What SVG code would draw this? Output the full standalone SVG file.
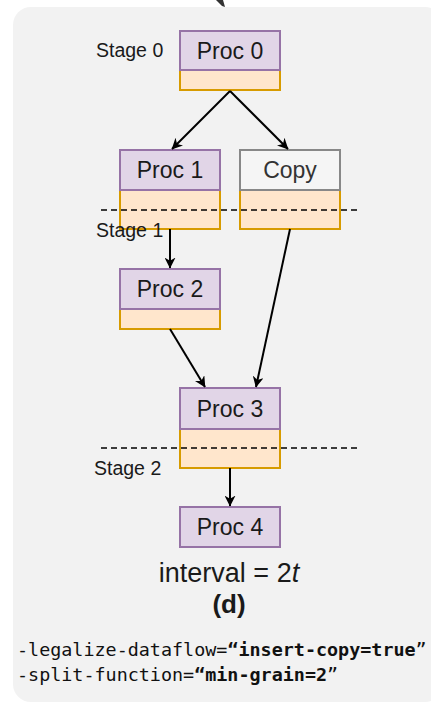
<svg xmlns="http://www.w3.org/2000/svg" width="431" height="704" viewBox="0 0 431 704">
<style>
.bg{fill:#f2f2f2}
.top{fill:#e1d5e7;stroke:#9673a6;stroke-width:2}
.bot{fill:#ffe6cc;stroke:#d79b00;stroke-width:2}
.cp{fill:#f5f5f5;stroke:#888888;stroke-width:2}
.lbl{font-family:"Liberation Sans",Arial,sans-serif;font-size:23px;fill:#1a1a1a;text-anchor:middle}
.cpl{fill:#333333}
.stage{font-family:"Liberation Sans",Arial,sans-serif;font-size:19.5px;fill:#1a1a1a}
.edge{stroke:#000;stroke-width:2;fill:none;marker-end:url(#ah)}
.dash{stroke:#000;stroke-width:1.6;stroke-dasharray:6 4;fill:none}
.code{font-family:"DejaVu Sans Mono","Liberation Mono",monospace;font-size:18.4px;fill:#111}
</style>
<defs>
<marker id="ah" viewBox="0 0 10 10" refX="9.5" refY="5" markerWidth="11" markerHeight="11" markerUnits="userSpaceOnUse" orient="auto">
<path d="M0,0 L10,5 L0,10 L3,5 Z" fill="#000"/>
</marker>
</defs>
<rect width="431" height="704" fill="#ffffff"/>
<rect class="bg" x="13" y="7" width="430" height="695" rx="18"/>
<polygon points="216,0 223,0 225,7 222,6" fill="#333333"/>

<g id="proc0">
<rect class="bot" x="180" y="70" width="100" height="20"/>
<rect class="top" x="180" y="31" width="100" height="39"/>
<text class="lbl" x="230" y="59">Proc 0</text>
</g>
<g id="proc1">
<rect class="bot" x="120" y="190" width="100" height="39"/>
<rect class="top" x="120" y="150" width="100" height="40"/>
<text class="lbl" x="170" y="178">Proc 1</text>
</g>
<g id="copy">
<rect class="bot" x="240" y="190" width="100" height="39"/>
<rect class="cp" x="240" y="150" width="100" height="40"/>
<text class="lbl cpl" x="290" y="178">Copy</text>
</g>
<g id="proc2">
<rect class="bot" x="120" y="309" width="100" height="20"/>
<rect class="top" x="120" y="269" width="100" height="40"/>
<text class="lbl" x="170" y="297">Proc 2</text>
</g>
<g id="proc3">
<rect class="bot" x="180" y="429" width="100" height="39"/>
<rect class="top" x="180" y="388" width="100" height="41"/>
<text class="lbl" x="230" y="417">Proc 3</text>
</g>
<g id="proc4">
<rect class="top" x="180" y="507" width="100" height="40"/>
<text class="lbl" x="230" y="535">Proc 4</text>
</g>

<g id="stages">
<text class="stage" x="96" y="57">Stage 0</text>
<line class="dash" x1="101" y1="210" x2="358" y2="210"/>
<text class="stage" x="96" y="237">Stage 1</text>
<line class="dash" x1="101" y1="448" x2="358" y2="448"/>
<text class="stage" x="94" y="475">Stage 2</text>
</g>

<g id="connectors">
<line class="edge" x1="230" y1="91" x2="172" y2="149"/>
<line class="edge" x1="230" y1="91" x2="288" y2="149"/>
<line class="edge" x1="170" y1="229" x2="170" y2="268"/>
<line class="edge" x1="170" y1="329" x2="205" y2="387"/>
<line class="edge" x1="290" y1="229" x2="256" y2="387"/>
<line class="edge" x1="230" y1="468" x2="230" y2="506"/>
</g>

<g id="caption">
<text x="229" y="582" font-family="'Liberation Sans',Arial,sans-serif" font-size="27" fill="#1a1a1a" text-anchor="middle">interval = 2<tspan font-style="italic">t</tspan></text>
<text x="229" y="613" font-family="'Liberation Sans',Arial,sans-serif" font-size="26" font-weight="bold" fill="#1a1a1a" text-anchor="middle">(d)</text>
<text class="code" x="17" y="656">-legalize-dataflow=<tspan font-weight="bold">“insert-copy=true</tspan>”</text>
<text class="code" x="17" y="681">-split-function=<tspan font-weight="bold">“min-grain=2</tspan>”</text>
</g>
</svg>
